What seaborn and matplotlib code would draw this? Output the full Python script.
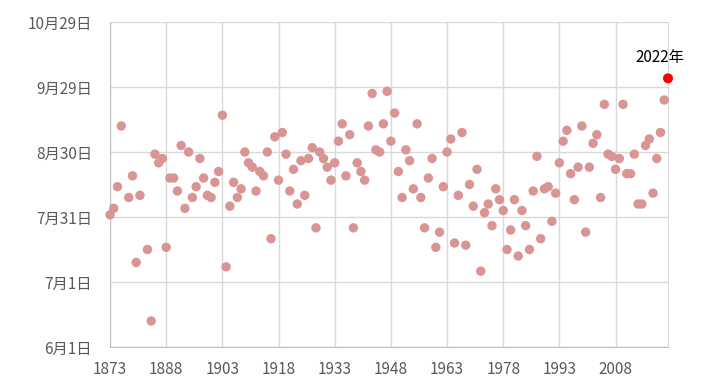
import pandas as pd
import seaborn as sns
import matplotlib.pyplot as plt

# years with no value in the source
missing_years = [1877, 1882]
years = [y for y in range(1873, 2023) if y not in missing_years]

# days after June 1
days_after_jun1 = [
    61, 64, 74, 102, 69, 79, 39, 70,                  # 1873-1881
    45, 12, 89, 85, 87, 46, 78, 78, 72, 93,           # 1883-1892
    64, 90, 69, 74, 87, 78, 70, 69, 76, 81,           # 1893-1902
    107, 37, 65, 76, 69, 73, 90, 85, 83, 72,          # 1903-1912
    81, 79, 90, 50, 97, 77, 99, 89, 72, 82,           # 1913-1922
    66, 86, 70, 87, 92, 55, 90, 87, 83, 77,           # 1923-1932
    85, 95, 103, 79, 98, 55, 85, 81, 77, 102,         # 1933-1942
    117, 91, 90, 103, 118, 95, 108, 81, 69, 91,       # 1943-1952
    86, 73, 103, 69, 55, 78, 87, 46, 53, 74,          # 1953-1962
    90, 96, 48, 70, 99, 47, 75, 65, 82, 35,           # 1963-1972
    62, 66, 56, 73, 68, 63, 45, 54, 68, 42,           # 1973-1982
    63, 56, 45, 72, 88, 50, 73, 74, 58, 71,           # 1983-1992
    85, 95, 100, 80, 68, 83, 102, 53, 83, 94,         # 1993-2002
    98, 69, 112, 89, 88, 82, 87, 112, 80, 80,         # 2003-2012
    89, 66, 66, 93, 96, 71, 87, 99, 114, 124,         # 2013-2022
]

highlight_year = 2022
highlight_label = "2022年"

tick_years = list(range(1873, 2009, 15))
tick_days = [0, 30, 60, 90, 120, 150]
base_date = pd.Timestamp("2022-06-01")
tick_labels = [f"{(base_date + pd.Timedelta(days=d)).month}月{(base_date + pd.Timedelta(days=d)).day}日"
               for d in tick_days]

df = pd.DataFrame({"Year": years, "Day": days_after_jun1})
others = df[df["Year"] != highlight_year]
latest = df[df["Year"] == highlight_year]

sns.set_style("white")
plt.rcParams['font.family'] = ['Noto Sans CJK JP', 'DejaVu Sans']

fig = plt.figure(figsize=(7.13, 3.91), dpi=100)
ax = fig.add_axes([110 / 713, 44 / 391, 558 / 713, 325 / 391])

sns.scatterplot(data=others, x="Year", y="Day", color="#D99594", s=46,
                edgecolor="none", clip_on=False, ax=ax, zorder=3)
sns.scatterplot(data=latest, x="Year", y="Day", color="#FF0000", s=52,
                edgecolor="none", clip_on=False, ax=ax, zorder=4)

ax.annotate(highlight_label, (latest["Year"].iloc[0], latest["Day"].iloc[0]),
            xytext=(-6, 9), textcoords="offset points", ha="center", va="bottom",
            fontsize=11, color="#000000")

ax.set_xlim(1873, 2022)
ax.set_ylim(0, 150)
ax.set_xticks(tick_years)
ax.set_yticks(tick_days)
ax.set_yticklabels(tick_labels)
ax.set_xlabel("")
ax.set_ylabel("")

ax.grid(True, color="#D9D9D9", linewidth=1)
ax.set_axisbelow(True)
ax.tick_params(axis="both", length=0, labelsize=11, labelcolor="#595959")
ax.tick_params(axis="x", pad=10)
ax.tick_params(axis="y", pad=13)

ax.spines["top"].set_visible(False)
ax.spines["right"].set_color("#D9D9D9")
ax.spines["left"].set_color("#BFBFBF")
ax.spines["bottom"].set_color("#BFBFBF")

fig.savefig("out.png", dpi=100)
